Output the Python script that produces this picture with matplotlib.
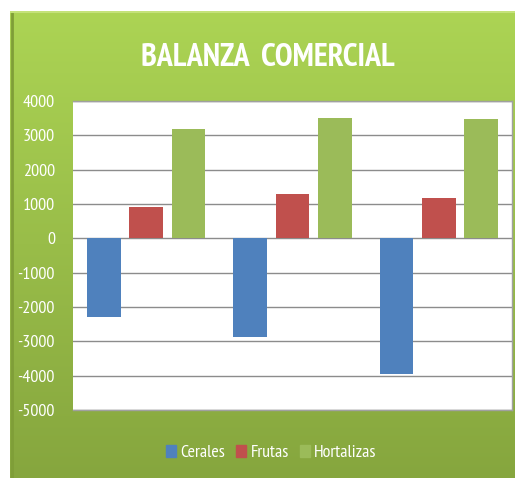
import numpy as np
import matplotlib
matplotlib.use("Agg")
import matplotlib.pyplot as plt
from matplotlib.patches import Patch

# === DATA ===
groups = ["1", "2", "3"]
series_names = ["Cerales", "Frutas", "Hortalizas"]
cerales = [-2300, -2880, -3950]
frutas = [900, 1300, 1180]
hortalizas = [3170, 3500, 3470]
y_ticks = [4000, 3000, 2000, 1000, 0, -1000, -2000, -3000, -4000, -5000]

colors = ["#4F81BD", "#C0504D", "#9BBB59"]
plt.rcParams['font.family'] = ['PT Sans Narrow', 'Carlito', 'DejaVu Sans']

fig = plt.figure(figsize=(5.15, 4.78), dpi=100)
fig.patch.set_facecolor("white")

# --- green gradient panel ---
bg = fig.add_axes([10 / 515, 0, 1 - 10 / 515, 1 - 11 / 478])
top = np.array([172, 212, 84]) / 255
bottom = np.array([134, 166, 62]) / 255
t = np.linspace(0, 1, 256)[:, None]
grad = top * (1 - t) + bottom * t
bg.imshow(grad[:, None, :].repeat(2, axis=1), aspect="auto", extent=[0, 1, 0, 1])
bg.axvline(0.003, color="#7f9e38", lw=2)
bg.axhline(0.997, color="#c4e27a", lw=1.5)
bg.set_axis_off()

# --- chart ---
ax = fig.add_axes([73 / 515, 1 - 410 / 478, 439 / 515, 309 / 478])
ax.set_facecolor("white")
x = np.arange(len(groups))
width = 0.23
offset = 0.29
ax.set_axisbelow(True)
ax.bar(x - offset, cerales, width, color=colors[0], label=series_names[0], zorder=2)
ax.bar(x, frutas, width, color=colors[1], label=series_names[1], zorder=2)
ax.bar(x + offset, hortalizas, width, color=colors[2], label=series_names[2], zorder=2)

ax.set_xlim(-0.5, 2.5)
ax.set_ylim(-5000, 4000)
ax.set_yticks(y_ticks)
ax.set_yticklabels([str(v) for v in y_ticks], color="white", fontsize=13)
ax.set_xticks([])
ax.tick_params(axis="y", length=0, pad=13)
ax.grid(axis="y", color="#8c8c8c", lw=1, zorder=1)
for side in ["top", "right", "bottom", "left"]:
    ax.spines[side].set_color("#a0a0a0")
    ax.spines[side].set_linewidth(1)
ax.spines["left"].set_visible(False)

fig.text(0.52, 0.879, "BALANZA  COMERCIAL", color="white", fontsize=23,
         fontweight="bold", ha="center", va="center")

handles = [Patch(color=c, label=n) for c, n in zip(colors, series_names)]
fig.legend(handles=handles, loc="center", bbox_to_anchor=(0.527, 0.052), ncol=3,
           frameon=False, labelcolor="white", fontsize=13, handlelength=0.55,
           handleheight=0.7, handletextpad=0.25, columnspacing=0.6)

fig.savefig("out.png", dpi=100)
